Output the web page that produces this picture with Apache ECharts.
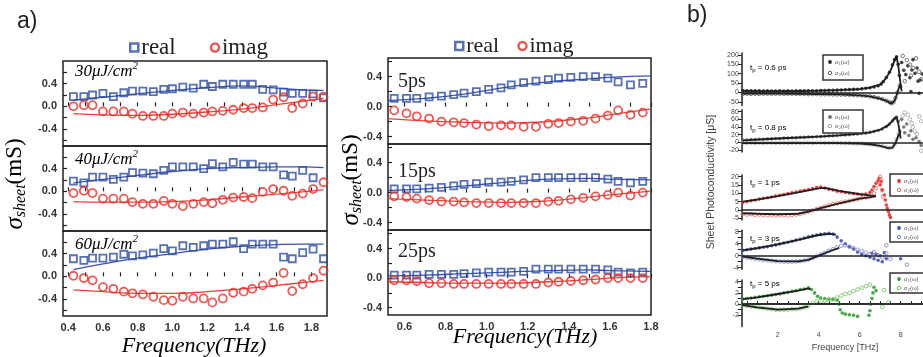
<!DOCTYPE html>
<html><head><meta charset="utf-8">
<script src="https://cdn.jsdelivr.net/npm/echarts@6/dist/echarts.min.js"></script>
<style>html,body{margin:0;padding:0;background:#fff}#c{width:923px;height:357px}</style>
</head><body><div id="c"></div>
<script>
// ---------- panel a, left group (fluence) ----------
const leftX = [0.43,0.49,0.54,0.60,0.66,0.72,0.77,0.83,0.89,0.95,1.00,1.06,1.12,1.18,1.23,1.29,1.35,1.41,1.46,1.52,1.58,1.64,1.69,1.75,1.81,1.87];
const re30 = [0.17,0.17,0.20,0.23,0.17,0.24,0.27,0.27,0.26,0.30,0.31,0.34,0.32,0.39,0.35,0.39,0.39,0.39,0.39,0.30,0.29,0.25,0.23,0.23,0.22,0.15];
const im30 = [0.00,0.02,0.02,-0.09,-0.09,-0.09,-0.13,-0.17,-0.17,-0.17,-0.13,-0.11,-0.13,-0.11,-0.09,-0.08,-0.06,-0.03,-0.03,-0.02,0.12,0.16,-0.03,0.05,0.17,0.17];
const re40 = [0.18,0.15,0.25,0.25,0.21,0.25,0.33,0.32,0.31,0.37,0.43,0.43,0.43,0.40,0.49,0.43,0.51,0.48,0.48,0.43,0.43,0.29,0.27,0.37,0.24,null];
const im40 = [-0.03,0.01,-0.03,-0.13,-0.13,-0.13,-0.19,-0.22,-0.22,-0.17,-0.22,-0.26,-0.22,-0.19,-0.21,-0.15,-0.11,-0.10,-0.12,-0.01,0.04,0.01,-0.08,-0.04,0.04,0.16];
const re60 = [0.31,0.28,0.32,0.32,0.34,0.39,0.36,0.38,0.41,0.49,0.45,0.54,0.51,0.54,0.57,0.57,0.61,0.49,0.57,0.57,0.57,0.34,0.31,0.42,0.48,0.31];
const im60 = [0.01,-0.03,-0.07,-0.19,-0.22,-0.27,-0.30,-0.32,-0.36,-0.42,-0.43,-0.36,-0.39,-0.39,-0.46,-0.39,-0.29,-0.27,-0.22,-0.16,-0.11,0.06,-0.26,-0.14,-0.03,0.10];
const fitXL = [0.43,0.6,0.8,1.0,1.2,1.4,1.6,1.75,1.87];
const re30Fit = [0.11,0.16,0.22,0.28,0.33,0.36,0.32,0.29,0.28];
const im30Fit = [-0.13,-0.15,-0.16,-0.14,-0.10,-0.05,0.03,0.09,0.14];
const re40Fit = [0.15,0.21,0.28,0.35,0.40,0.42,0.43,0.43,0.42];
const im40Fit = [-0.18,-0.19,-0.19,-0.18,-0.15,-0.10,-0.05,-0.01,0.03];
const re60Fit = [0.12,0.22,0.32,0.40,0.48,0.53,0.56,0.57,0.57];
const im60Fit = [-0.24,-0.27,-0.30,-0.30,-0.27,-0.22,-0.16,-0.11,-0.07];
const leftXLabels = [0.4,0.6,0.8,1.0,1.2,1.4,1.6,1.8];
const leftXTicks = [0.4,0.5,0.6,0.7,0.8,0.9,1.0,1.1,1.2,1.3,1.4,1.5,1.6,1.7,1.8];
const aYLabels = [-0.4,0,0.4];
const aYTicks = [-0.6,-0.4,-0.2,0,0.2,0.4,0.6];
const leftNotes = ['30μJ/cm','40μJ/cm','60μJ/cm'];

// ---------- panel a, right group (delay) ----------
const rightX = [0.55,0.61,0.66,0.72,0.78,0.84,0.89,0.95,1.01,1.07,1.12,1.18,1.24,1.30,1.35,1.41,1.47,1.53,1.59,1.64,1.70,1.76];
const re5 = [0.11,0.11,0.11,0.13,0.14,0.16,0.18,0.20,0.23,0.25,0.29,0.32,0.34,0.36,0.38,0.39,0.40,0.40,0.38,0.33,0.29,0.31];
const im5 = [-0.05,-0.09,-0.13,-0.16,-0.20,-0.21,-0.22,-0.24,-0.26,-0.25,-0.25,-0.27,-0.27,-0.23,-0.22,-0.20,-0.19,-0.16,-0.12,-0.05,-0.11,-0.08];
const re15 = [0.05,0.05,0.05,0.06,0.07,0.09,0.11,0.12,0.14,0.14,0.15,0.17,0.20,0.20,0.20,0.20,0.20,0.20,0.18,0.15,0.13,0.15];
const im15 = [-0.05,-0.06,-0.08,-0.10,-0.12,-0.12,-0.13,-0.14,-0.14,-0.14,-0.14,-0.14,-0.14,-0.12,-0.11,-0.09,-0.07,-0.05,-0.03,0.00,-0.04,0.00];
const re25 = [0.04,0.04,0.04,0.05,0.05,0.05,0.06,0.07,0.08,0.08,0.08,0.09,0.12,0.12,0.12,0.12,0.12,0.12,0.11,0.08,0.07,0.08];
const im25 = [-0.03,-0.03,-0.04,-0.07,-0.07,-0.08,-0.08,-0.08,-0.08,-0.08,-0.08,-0.08,-0.08,-0.06,-0.05,-0.04,-0.03,-0.02,0.00,0.00,0.00,0.00];
const fitXR = [0.52,0.7,0.9,1.1,1.3,1.5,1.6,1.8];
const re5Fit = [0.08,0.11,0.17,0.26,0.33,0.37,0.39,0.41];
const im5Fit = [-0.16,-0.19,-0.21,-0.22,-0.20,-0.15,-0.11,-0.03];
const re15Fit = [0.03,0.05,0.09,0.14,0.18,0.19,0.18,0.17];
const im15Fit = [-0.08,-0.10,-0.12,-0.13,-0.11,-0.06,-0.03,0.02];
const re25Fit = [0.03,0.04,0.06,0.08,0.10,0.11,0.10,0.09];
const im25Fit = [-0.05,-0.06,-0.07,-0.07,-0.05,-0.02,0.00,0.02];
const rightXLabels = [0.6,0.8,1.0,1.2,1.4,1.6,1.8];
const rightXTicks = [0.6,0.7,0.8,0.9,1.0,1.1,1.2,1.3,1.4,1.5,1.6,1.7,1.8];
const rightNotes = ['5ps','15ps','25ps'];

// ---------- panel b ----------
const b1Re = [[0.3,10],[0.5,9],[0.7,8],[0.9,9],[1.1,8],[1.3,7],[1.5,8],[1.7,7],[1.9,7],[2.1,8],[2.3,7],[2.5,8],[2.7,7],[2.9,8],[3.1,8],[3.3,9],[3.5,8],[3.7,9],[3.9,9],[4.1,10],[4.3,10],[4.5,11],[4.7,11],[4.9,12],[5.1,13],[5.3,14],[5.5,15],[5.7,16],[5.9,17],[6.1,19],[6.3,22],[6.5,25],[6.7,29],[6.9,35],[7.05,45],[7.15,57],[7.3,80],[7.45,108],[7.6,148],[7.7,175],[7.8,190],[7.88,150],[7.94,90],[8.0,30],[8.05,160],[8.15,118],[8.25,95],[8.35,142],[8.45,78],[8.55,120],[8.6,175],[8.7,102],[8.8,130],[8.85,60],[8.95,66],[9.05,98],[9.1,45],[8.5,5],[8.9,-5]];
const b1Im = [[0.3,-8],[0.5,-7],[0.7,-8],[0.9,-7],[1.1,-8],[1.3,-7],[1.5,-7],[1.7,-8],[1.9,-7],[2.1,-7],[2.3,-8],[2.5,-7],[2.7,-7],[2.9,-8],[3.1,-8],[3.3,-8],[3.5,-9],[3.7,-9],[3.9,-9],[4.1,-10],[4.3,-10],[4.5,-10],[4.7,-11],[4.9,-11],[5.1,-12],[5.3,-12],[5.5,-13],[5.7,-14],[5.9,-15],[6.1,-16],[6.3,-18],[6.5,-21],[6.7,-25],[6.9,-30],[7.1,-36],[7.3,-44],[7.45,-52],[7.55,-58],[7.65,-52],[7.75,-30],[7.85,0],[7.95,35],[8.1,195],[8.3,172],[8.45,148],[8.6,130],[8.75,182],[8.9,110],[9.0,70],[9.1,150],[8.2,60],[8.5,90]];
const b1ReFit = [[0.3,8],[1,7],[2,7],[3,7.5],[4,9],[5,12],[5.5,15],[6,18],[6.5,25],[7,42],[7.3,78],[7.5,115],[7.7,170],[7.8,192],[7.9,130],[8.0,40],[8.05,5]];
const b1ImFit = [[0.3,-7],[2,-7],[4,-9],[5,-11],[6,-16],[6.5,-21],[7,-33],[7.3,-45],[7.55,-60],[7.7,-45],[7.8,-15],[7.9,20],[8.0,45]];

const b2Re = [[0.3,6],[0.5,6],[0.7,7],[0.9,7],[1.1,8],[1.3,8],[1.5,9],[1.7,9],[1.9,10],[2.1,10],[2.3,11],[2.5,11],[2.7,12],[2.9,12],[3.1,13],[3.3,13],[3.5,14],[3.7,14],[3.9,15],[4.1,15],[4.3,16],[4.5,17],[4.7,17],[4.9,18],[5.1,19],[5.3,19],[5.5,20],[5.7,21],[5.9,22],[6.1,23],[6.3,24],[6.5,26],[6.7,28],[6.9,31],[7.1,35],[7.3,41],[7.45,48],[7.6,56],[7.7,62],[7.8,66],[7.88,55],[7.95,30],[8.05,60],[8.15,40],[8.2,25],[8.3,48],[8.4,18],[8.5,30],[8.6,8],[8.75,12],[8.9,2],[9.0,-8],[9.25,-18]];
const b2Im = [[0.3,-2],[0.5,-2],[0.7,-1],[0.9,-2],[1.1,-1],[1.3,-2],[1.5,-1],[1.7,-1],[1.9,-2],[2.1,-1],[2.3,-1],[2.5,-2],[2.7,-1],[2.9,-1],[3.1,-2],[3.3,-1],[3.5,-1],[3.7,-2],[3.9,-1],[4.1,-1],[4.3,-2],[4.5,-2],[4.7,-1],[4.9,-2],[5.1,-2],[5.3,-2],[5.5,-2],[5.7,-3],[5.9,-3],[6.1,-3],[6.3,-4],[6.5,-5],[6.7,-6],[6.9,-8],[7.1,-10],[7.3,-13],[7.45,-15],[7.6,-13],[7.7,-5],[7.8,8],[7.9,22],[8.1,70],[8.2,78],[8.35,72],[8.45,60],[8.55,50],[8.6,40],[8.7,28],[8.8,22],[8.9,68],[9.0,55],[9.1,35],[9.25,-15],[9.0,-22]];
const b2ReFit = [[0.3,5],[2,10],[4,15],[5,18],[6,23],[6.5,26],[7,33],[7.4,45],[7.7,62],[7.8,66],[7.9,45],[8.0,10]];
const b2ImFit = [[0.3,-2],[3,-2],[5,-2],[6,-3],[6.5,-5],[7,-9],[7.4,-15],[7.6,-14],[7.75,-2],[7.9,20],[8.0,28]];

const b3Re = [[0.3,4.5],[0.5,5],[0.7,5.5],[0.9,6],[1.1,6.5],[1.3,7],[1.5,7.3],[1.7,7.8],[1.9,8.3],[2.1,8.8],[2.3,9.2],[2.5,9.8],[2.7,10.3],[2.9,10.8],[3.1,11.3],[3.3,11.8],[3.5,12.3],[3.7,12.8],[3.9,13.5],[4.1,13.8],[4.3,13.2],[4.5,12.5],[4.7,12.0],[4.9,11.3],[5.1,11.0],[5.3,10.5],[5.5,10.2],[5.7,9.8],[5.9,9.5],[6.1,9.2],[6.3,9.5],[6.5,10.5],[6.6,12],[6.7,14],[6.8,16],[6.9,17.5],[6.95,19],[7.0,15],[7.05,17],[7.1,12],[7.2,9],[7.25,6],[7.3,3],[7.35,1],[7.4,-1],[7.45,-3],[7.5,-4.5]];
const b3Im = [[0.3,-2.5],[0.5,-2.8],[0.7,-2.6],[0.9,-3],[1.1,-2.8],[1.3,-3],[1.5,-3.2],[1.7,-3],[1.9,-3.3],[2.1,-3],[2.3,-3.2],[2.5,-3.4],[2.7,-3],[2.9,-2.8],[3.1,-2.5],[3.3,-1.8],[3.5,-1],[3.7,-0.3],[3.9,0.5],[4.1,1.2],[4.3,2],[4.5,2.8],[4.7,3.5],[4.9,4],[5.1,4.5],[5.3,5],[5.5,5.5],[5.7,6],[5.9,6.5],[6.1,7],[6.3,7.5],[6.5,8],[6.7,10],[6.8,13],[6.9,17],[7.0,20],[7.05,18],[7.1,12],[7.15,8]];
const b3ReFit = [[0.3,5],[1,6.2],[2,8.3],[3,10.5],[4,13],[4.3,13.2],[5,11.5],[6,9.5],[6.8,8.3]];
const b3ImFit = [[0.3,-2],[1,-2.3],[2,-2.6],[3,-2.3],[3.5,-1],[4,0.8],[5,4],[6,6.8],[6.8,8.2]];

const b4Re = [[0.3,1.8],[0.5,2],[0.7,2.2],[0.9,2.4],[1.1,2.6],[1.3,2.8],[1.5,3],[1.7,3.3],[1.9,3.6],[2.1,3.9],[2.3,4.2],[2.5,4.5],[2.7,4.8],[2.9,5.2],[3.1,5.5],[3.3,5.9],[3.5,6.3],[3.7,6.6],[3.9,6.9],[4.1,7.1],[4.3,7.3],[4.5,7.5],[4.7,7.2],[4.9,6.2],[5.1,5],[5.3,4],[5.5,3],[5.7,2.2],[5.9,1.2],[6.1,0.5],[6.3,0],[6.5,-0.5],[6.6,0.8],[6.7,-1],[6.8,0.5],[6.9,-1.5],[7.0,0],[7.1,-2],[7.2,1],[7.3,-1],[8.0,-1]];
const b4Im = [[0.3,-0.3],[0.5,-0.6],[0.7,-0.8],[0.9,-1],[1.1,-1.2],[1.3,-1.4],[1.5,-1.5],[1.7,-1.7],[1.9,-1.8],[2.1,-1.9],[2.3,-2],[2.5,-2],[2.7,-2],[2.9,-1.9],[3.1,-1.8],[3.3,-1.6],[3.5,-1.3],[3.7,-0.8],[3.9,-0.2],[4.1,0.4],[4.3,1],[4.5,1.6],[4.7,2.2],[4.9,2.8],[5.1,3.3],[5.3,3.5],[5.5,3],[5.7,2.5],[5.9,2],[6.1,1.5],[6.3,1],[6.5,0.5],[6.7,1.2],[6.9,0.2],[7.1,-0.5],[7.3,0.8],[7.5,-1],[7.3,3.5],[8.3,-3]];
const b4ReFit = [[0.3,1.8],[1,2.5],[2,3.8],[3,5.3],[4,6.9],[4.5,7.3],[4.85,7]];
const b4ImFit = [[0.3,-0.3],[1,-1],[2,-1.8],[3,-1.9],[3.5,-1.4],[4,0],[4.5,1.4],[5,2.6]];

const b5Re = [[0.3,0.9],[0.5,1],[0.7,1.1],[0.9,1.2],[1.1,1.3],[1.3,1.4],[1.5,1.5],[1.7,1.6],[1.9,1.7],[2.1,1.8],[2.3,2],[2.5,2.1],[2.7,2.3],[2.9,2.4],[3.1,2.6],[3.3,2.7],[3.5,2.9],[3.65,2.6],[3.8,2],[3.95,1.4],[4.1,1.1],[4.3,1],[4.5,0.9],[4.7,0.8],[4.9,0.7],[5.0,0],[5.05,-1],[5.15,-1.6],[5.3,-1.8],[5.5,-1.9],[5.7,-2],[5.9,-2.2],[6.45,-2],[6.5,-1.2],[6.55,0],[6.6,1],[6.65,2],[6.7,3],[6.8,2.4]];
const b5Im = [[0.3,-0.2],[0.5,-0.3],[0.7,-0.4],[0.9,-0.5],[1.1,-0.6],[1.3,-0.7],[1.5,-0.8],[1.7,-0.9],[1.9,-1],[2.1,-1],[2.3,-1],[2.5,-1],[2.7,-0.9],[2.9,-0.9],[3.1,-0.8],[3.3,-0.6],[3.5,-0.3],[3.7,0.2],[3.9,0.5],[4.1,0.6],[4.3,0.6],[4.5,0.7],[4.7,0.9],[4.9,1.2],[5.1,1.5],[5.3,1.8],[5.5,2],[5.7,2.3],[5.9,2.6],[6.1,2.9],[6.3,3.2],[6.5,3.5],[7.1,-0.5],[7.2,2.5],[7.4,0.3]];
const b5ReFit = [[0.3,0.9],[1,1.2],[2,1.8],[3,2.4],[3.5,2.8],[3.6,2.6]];
const b5ImFit = [[0.3,-0.2],[1,-0.6],[2,-1],[3,-0.8],[3.5,-0.4]];

const bYLabels = [[-50,0,50,100,150,200],[-20,0,20,40,60,80],[-5,0,5,10,15,20],[-4,0,4,8],[-2,0,2,4]];
const bYTicks = [[-50,0,50,100,150,200],[-20,0,20,40,60,80],[-5,0,5,10,15,20],[-4,-2,0,2,4,6,8],[-2,-1,0,1,2,3,4]];
const bXLabels = [2,4,6,8];
const bXTicks = [0.5,1,1.5,2,2.5,3,3.5,4,4.5,5,5.5,6,6.5,7,7.5,8,8.5,9];
const bNotes = ['0.6','0.8','1','3','5'];

// ---------- styling / layout ----------
const BLUE='#2f4d9c', RED='#e3322c', BLUEL='#3a52b4', REDL='#e8433b';
const SERIF='"Liberation Serif","DejaVu Serif",serif';
const SANS='"Liberation Sans",Arial,sans-serif';
const pairs=(xs,ys)=>xs.map((x,i)=>[x,ys[i]]).filter(p=>p[1]!=null);

const grids=[], xAxes=[], yAxes=[], series=[];
const aTops=[61,146,231], rTops=[58,144,230];
function aPanel(gi,left,top,height,width,xmin,xmax,ymin,ymax,xl,xt,bottom){
  grids.push({left,top,width,height,show:true,borderColor:'#222',borderWidth:1.5,backgroundColor:'transparent'});
  xAxes.push({type:'value',gridIndex:gi,min:xmin,max:xmax,splitLine:{show:false},axisLine:{show:false},
    axisTick:{show:true,inside:true,length:4,customValues:xt,lineStyle:{color:'#222',width:1.2}},
    axisLabel:{show:bottom,customValues:xl,formatter:v=>v.toFixed(1),fontSize:11,fontWeight:'bold',color:'#333',fontFamily:SANS,margin:6}});
  yAxes.push({type:'value',gridIndex:gi,min:ymin,max:ymax,splitLine:{show:false},axisLine:{show:false},
    axisTick:{show:true,inside:true,length:4,customValues:aYTicks,lineStyle:{color:'#222',width:1.2}},
    axisLabel:{customValues:aYLabels,formatter:v=>v.toFixed(1),fontSize:11,fontWeight:'bold',color:'#333',fontFamily:SANS,margin:6}});
}
function aSeries(gi,xs,re,im,fx,reF,imF){
  series.push({name:'realFit',type:'line',xAxisIndex:gi,yAxisIndex:gi,data:pairs(fx,reF),showSymbol:false,symbol:'none',smooth:true,lineStyle:{color:BLUEL,width:1.3},z:2});
  series.push({name:'imagFit',type:'line',xAxisIndex:gi,yAxisIndex:gi,data:pairs(fx,imF),showSymbol:false,symbol:'none',smooth:true,lineStyle:{color:REDL,width:1.3},z:2});
  series.push({name:'real',type:'scatter',xAxisIndex:gi,yAxisIndex:gi,data:pairs(xs,re),symbol:'rect',symbolSize:7,itemStyle:{color:'rgba(255,255,255,0)',borderColor:BLUE,borderWidth:1.8},z:3});
  series.push({name:'imag',type:'scatter',xAxisIndex:gi,yAxisIndex:gi,data:pairs(xs,im),symbol:'circle',symbolSize:8,itemStyle:{color:'rgba(255,255,255,0)',borderColor:RED,borderWidth:1.8},z:3});
}
const Ldat=[[re30,im30,re30Fit,im30Fit],[re40,im40,re40Fit,im40Fit],[re60,im60,re60Fit,im60Fit]];
for(let i=0;i<3;i++){
  aPanel(i,63,aTops[i],85,264,0.37,1.89,-0.7,0.8,leftXLabels,leftXTicks,i===2);
  aSeries(i,leftX,Ldat[i][0],Ldat[i][1],fitXL,Ldat[i][2],Ldat[i][3]);
}
const Rdat=[[re5,im5,re5Fit,im5Fit],[re15,im15,re15Fit,im15Fit],[re25,im25,re25Fit,im25Fit]];
for(let i=0;i<3;i++){
  aPanel(3+i,388,rTops[i],i===2?85:86,263,0.52,1.8,-0.5,0.65,rightXLabels,rightXTicks,i===2);
  aSeries(3+i,rightX,Rdat[i][0],Rdat[i][1],fitXR,Rdat[i][2],Rdat[i][3]);
}

// panel b grids (the figure is cropped at the right edge of the page)
const bGeom=[[53.1,52.4,-70,210],[109.8,42.1,-25,85],[175,44.9,-6,21],[230.2,39,-4.5,8.5],[280,46.5,-4,4.3]];
const bCols=[['#2a2a2a','#5a5a5a'],['#6e6e6e','#a8a8a8'],['#e03030','#ea6a62'],['#4350a8','#7a80c8'],['#3c9a3c','#74bd62']];
const bDat=[[b1Re,b1Im,b1ReFit,b1ImFit],[b2Re,b2Im,b2ReFit,b2ImFit],[b3Re,b3Im,b3ReFit,b3ImFit],[b4Re,b4Im,b4ReFit,b4ImFit],[b5Re,b5Im,b5ReFit,b5ImFit]];
for(let k=0;k<5;k++){
  const gi=6+k, g=bGeom[k], last=k===4;
  grids.push({left:741.8,top:g[0],width:181.2,height:g[1]});
  xAxes.push({type:'value',gridIndex:gi,min:0.25,max:9.09,show:last,splitLine:{show:false},
    axisLine:{show:true,lineStyle:{color:'#222',width:1.5}},
    axisTick:{show:true,inside:true,length:3,customValues:bXTicks,lineStyle:{color:'#222',width:1}},
    axisLabel:{customValues:bXLabels,fontSize:7,color:'#444',fontFamily:SANS,margin:5}});
  yAxes.push({type:'value',gridIndex:gi,min:g[2],max:g[3],splitLine:{show:false},
    axisLine:{show:true,lineStyle:{color:'#222',width:1.5}},
    axisTick:{show:true,length:4,customValues:bYTicks[k],lineStyle:{color:'#222',width:1}},
    axisLabel:{customValues:bYLabels[k],fontSize:7,color:'#444',fontFamily:SANS,margin:3}});
  series.push({name:'b_s1_'+k,type:'scatter',xAxisIndex:gi,yAxisIndex:gi,data:bDat[k][0],symbol:'circle',symbolSize:3.6,
    itemStyle:{color:bCols[k][0],opacity:0.9},z:3,
    markLine:{silent:true,symbol:'none',label:{show:false},lineStyle:{color:'#222',width:1.5,type:'solid'},data:[{yAxis:0}]}});
  series.push({name:'b_s2_'+k,type:'scatter',xAxisIndex:gi,yAxisIndex:gi,data:bDat[k][1],symbol:'circle',symbolSize:3.6,
    itemStyle:{color:'rgba(255,255,255,0)',borderColor:bCols[k][1],borderWidth:1},z:3});
  series.push({name:'b_f1_'+k,type:'line',xAxisIndex:gi,yAxisIndex:gi,data:bDat[k][2],showSymbol:false,symbol:'none',lineStyle:{color:'#1e1e1e',width:1.8},z:4});
  series.push({name:'b_f2_'+k,type:'line',xAxisIndex:gi,yAxisIndex:gi,data:bDat[k][3],showSymbol:false,symbol:'none',lineStyle:{color:'#1e1e1e',width:1.8},z:4});
}

// graphics (labels)
const graphic=[];
const T=(x,y,text,o)=>graphic.push(Object.assign({type:'text',x,y,silent:true,style:Object.assign({text,fill:'#222',textVerticalAlign:'middle'},o||{})}));
T(17,22,'a)',{font:'23px '+SANS});
T(687,16,'b)',{font:'23px '+SANS});
const noteRich={a:{fontFamily:SERIF,fontStyle:'italic',fontSize:17,color:'#222'},b:{fontFamily:SERIF,fontStyle:'italic',fontSize:11,color:'#222',padding:[0,0,12,0]}};
const noteY=[72,160,245];
for(let i=0;i<3;i++) graphic.push({type:'text',x:75,y:noteY[i],silent:true,style:{text:'{a|'+leftNotes[i]+'}{b|2}',rich:noteRich,textVerticalAlign:'middle'}});
const rNoteY=[82,172,252];
for(let i=0;i<3;i++) T(398,rNoteY[i],rightNotes[i],{fontFamily:SERIF,fontSize:20});
const freqRich={a:{fontFamily:SERIF,fontStyle:'italic',fontSize:22,color:'#222'}};
graphic.push({type:'text',x:194,y:346,silent:true,style:{text:'{a|Frequency(THz)}',rich:freqRich,textAlign:'center',textVerticalAlign:'middle'}});
graphic.push({type:'text',x:525,y:337,silent:true,style:{text:'{a|Frequency(THz)}',rich:freqRich,textAlign:'center',textVerticalAlign:'middle'}});
const sigRich={s:{fontFamily:SERIF,fontStyle:'italic',fontSize:25,color:'#222'},u:{fontFamily:SERIF,fontStyle:'italic',fontSize:16,color:'#222',padding:[12,0,0,0]},n:{fontFamily:SERIF,fontSize:23,color:'#222'}};
[[15,184],[351,180]].forEach(p=>graphic.push({type:'text',x:p[0],y:p[1],rotation:Math.PI/2,silent:true,style:{text:'{s|σ}{u|sheet}{n|(mS)}',rich:sigRich,textAlign:'center',textVerticalAlign:'middle'}}));
// panel b texts
const tpY=[68,128,183,239,284];
const tpRich={a:{fontFamily:SANS,fontSize:8,color:'#333'},s:{fontFamily:SANS,fontSize:6,color:'#333',padding:[5,0,0,0]}};
for(let k=0;k<5;k++) graphic.push({type:'text',x:750,y:tpY[k],silent:true,style:{text:'{a|t}{s|p}{a| = '+bNotes[k]+' ps}',rich:tpRich,textVerticalAlign:'middle'}});
T(845,348,'Frequency [THz]',{font:'9px '+SANS,fill:'#444',textAlign:'center'});
graphic.push({type:'text',x:711,y:182,rotation:Math.PI/2,silent:true,style:{text:'Sheet Photoconductivity [μS]',font:'10.5px '+SANS,fill:'#444',textAlign:'center',textVerticalAlign:'middle'}});
const boxes=[[823,55,40,25,830,62,73,835],[823,110,40,23,830,117,126,835],[890,174,45,22,899,181,190,904],[890,222,45,20,899,228,237,904],[890,273,45,20,899,279,288,904]];
boxes.forEach((b,k)=>{
  graphic.push({type:'rect',silent:true,shape:{x:b[0],y:b[1],width:b[2],height:b[3]},style:{fill:'#fff',stroke:'#333',lineWidth:1.5},z:10});
  graphic.push({type:'circle',silent:true,shape:{cx:b[4],cy:b[5],r:1.9},style:{fill:bCols[k][0]},z:11});
  graphic.push({type:'circle',silent:true,shape:{cx:b[4],cy:b[6],r:1.7},style:{fill:'#fff',stroke:bCols[k][1],lineWidth:1},z:11});
  graphic.push({type:'text',silent:true,x:b[7],y:b[5],style:{text:'σ₁(ω)',font:'6px '+SANS,fill:'#555',textVerticalAlign:'middle'},z:11});
  graphic.push({type:'text',silent:true,x:b[7],y:b[6],style:{text:'σ₂(ω)',font:'6px '+SANS,fill:'#555',textVerticalAlign:'middle'},z:11});
});

const legItem=(gap,left,top,fs)=>({left,top,itemWidth:8,itemHeight:8,itemGap:gap,selectedMode:false,
  textStyle:{fontFamily:SERIF,fontSize:fs,color:'#222',padding:[0,0,0,-2]},
  data:[{name:'real',icon:'rect',itemStyle:{color:'#fff',borderColor:BLUE,borderWidth:2.5}},
        {name:'imag',icon:'circle',itemStyle:{color:'#fff',borderColor:RED,borderWidth:2.5}}]});

const option={animation:false,backgroundColor:'#fff',grid:grids,xAxis:xAxes,yAxis:yAxes,series,graphic,
  legend:[legItem(34,124,31,23),legItem(18,449,30,22)]};
const chart=echarts.init(document.getElementById('c'),null,{renderer:'canvas'});
chart.setOption(option);
</script></body></html>
